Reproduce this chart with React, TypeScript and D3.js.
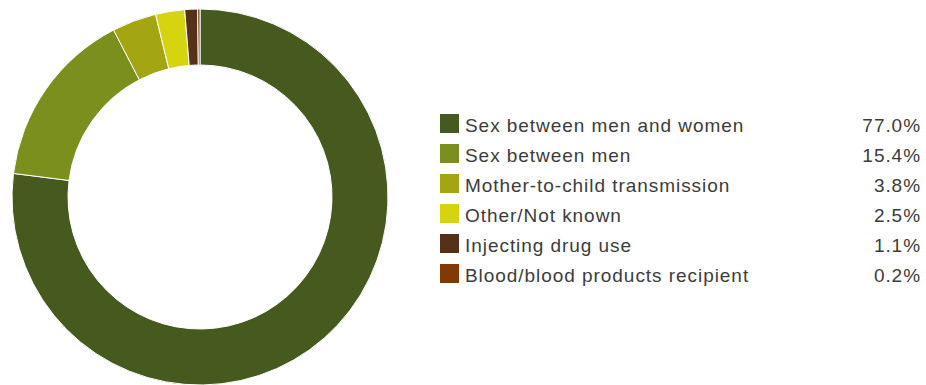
import React from "react";
import * as d3 from "d3";

const categories = [
  "Sex between men and women",
  "Sex between men",
  "Mother-to-child transmission",
  "Other/Not known",
  "Injecting drug use",
  "Blood/blood products recipient",
];
const values = [77.0, 15.4, 3.8, 2.5, 1.1, 0.2];
const colors = ["#465a20", "#7a8f1e", "#a3a512", "#d6d30f", "#55311a", "#7f3a05"];

export default function App() {
  const width = 926;
  const height = 385;
  const cx = 200;
  const cy = 197;
  const outerR = 188;
  const innerR = 132;

  const pie = d3.pie<number>().sort(null).value((d) => d);
  const arcs = pie(values);
  const arc = d3.arc<d3.PieArcDatum<number>>().innerRadius(innerR).outerRadius(outerR);

  const legendX = 440;
  const legendY = 114;
  const rowH = 30;

  return (
    <svg
      width={width}
      height={height}
      style={{ position: "absolute", left: 0, top: 0 }}
      fontFamily="'Liberation Sans', Arial, sans-serif"
    >
      <g transform={`translate(${cx},${cy})`}>
        {arcs.map((a, i) => (
          <path key={i} d={arc(a) || ""} fill={colors[i]} stroke="#fff" strokeWidth={1} />
        ))}
      </g>
      {categories.map((c, i) => (
        <g key={c} transform={`translate(0,${legendY + i * rowH})`}>
          <rect x={legendX} y={0} width={19} height={19} fill={colors[i]} />
          <text x={465} y={17.5} fontSize={19} letterSpacing={0.95} fill="#3c3c3c">
            {c}
          </text>
          <text x={921} y={17.5} fontSize={19} letterSpacing={0.95} fill="#3c3c3c" textAnchor="end">
            {values[i].toFixed(1)}%
          </text>
        </g>
      ))}
    </svg>
  );
}
